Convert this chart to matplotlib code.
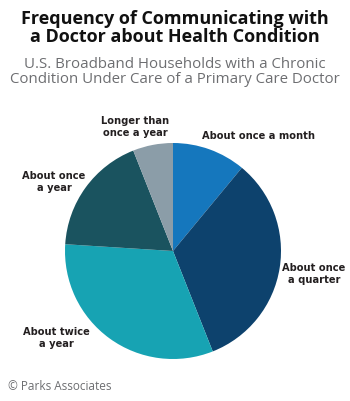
"""Pie chart: frequency of communicating with a doctor about a health condition."""

import matplotlib
matplotlib.use("Agg")
import matplotlib.pyplot as plt

categories = [
    "About once a month",
    "About once\na quarter",
    "About twice\na year",
    "About once\na year",
    "Longer than\nonce a year",
]
shares = [11, 33, 32, 18, 6]
colors = ["#1577bd", "#0d426d", "#17a3b3", "#1a535f", "#8b9da8"]

# label anchor positions in pixels (x, y from top) and alignment
label_pos = [(202, 136, "left"), (314, 274, "center"), (56, 338, "center"),
             (54, 182, "center"), (135, 127, "center")]

W, H = 350, 401
fig = plt.figure(figsize=(W / 100, H / 100), dpi=100)

cx, cy, r = 173, 251, 108
ax = fig.add_axes([(cx - r) / W, (H - cy - r) / H, 2 * r / W, 2 * r / H])
ax.pie(shares, colors=colors, startangle=90, counterclock=False, radius=1,
       wedgeprops=dict(linewidth=0))
ax.set_xlim(-1, 1)
ax.set_ylim(-1, 1)
ax.set_aspect("equal")
ax.axis("off")

fig.text(0.5, 1 - 28 / H, "Frequency of Communicating with\na Doctor about Health Condition",
         ha="center", va="center", fontsize=13.0, fontweight="bold",
         family="Open Sans", color="#111111", linespacing=1.05)
fig.text(0.5, 1 - 72 / H, "U.S. Broadband Households with a Chronic\nCondition Under Care of a Primary Care Doctor",
         ha="center", va="center", fontsize=10.8, family="Open Sans",
         color="#6d6e71", linespacing=1.05)

for lab, (x, y, ha) in zip(categories, label_pos):
    fig.text(x / W, 1 - y / H, lab, ha=ha, va="center", fontsize=7.9,
             fontweight="bold", family="DejaVu Sans", fontstretch="condensed",
             color="#231f20", linespacing=1.25)

fig.text(8 / W, 1 - 386 / H, "© Parks Associates", ha="left", va="center",
         fontsize=8.5, family="Open Sans", color="#6d6e71")

fig.savefig("out.png", dpi=100)
